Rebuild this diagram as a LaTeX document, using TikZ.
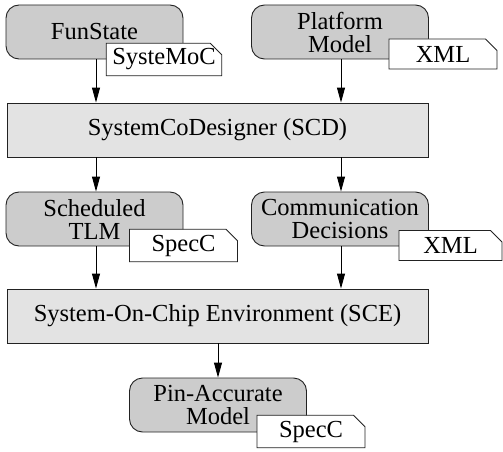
\documentclass[tikz,border=0pt]{standalone}
\usepackage{fontspec}
\setmainfont{Liberation Serif}
\usetikzlibrary{arrows.meta,shapes.misc}
\definecolor{boxgray}{HTML}{CCCCCC}
\definecolor{toolgray}{HTML}{E3E3E3}
\definecolor{edgegray}{HTML}{222222}
\begin{document}
\begin{tikzpicture}[x=1pt,y=-1pt,
  txt/.style={font=\fontsize{24.5}{23}\selectfont, align=center, inner sep=0pt},
  model/.style={txt, draw=edgegray, line width=0.9pt, fill=boxgray, rounded corners=13pt, minimum width=177pt, minimum height=54pt},
  tool/.style={txt, draw=edgegray, line width=0.9pt, fill=toolgray, minimum width=421pt, minimum height=54pt},
  tag/.style={txt, draw=edgegray, line width=0.9pt, fill=white, chamfered rectangle, chamfered rectangle corners=north east, chamfered rectangle xsep=6pt, chamfered rectangle ysep=5.5pt, minimum width=108pt, minimum height=30pt},
  flow/.style={draw=black, line width=0.9pt, -{Triangle[length=15pt,width=8pt]}}]
\useasboundingbox (0,0) rectangle (503,452);
% top row
\node[model] (fun) at (94.5,32) {FunState};
\node[tag] (funtag) at (164,59.5) {SysteMoC};
\node[model] (plat) at (340,32) {Platform\\Model};
\node[tag] (plattag) at (443,54) {XML};
% SCD
\node[tool] (scd) at (217.5,130) {SystemCoDesigner (SCD)};
% middle row
\node[model] (tlm) at (94.5,219) {Scheduled\\TLM};
\node[tag] (tlmtag) at (183.5,245.5) {SpecC};
\node[model] (comm) at (340,219) {Communication\\Decisions};
\node[tag, minimum width=103pt] (commtag) at (450.5,245.5) {XML};
% SCE
\node[tool] (sce) at (217.5,316) {System-On-Chip Environment (SCE)};
% bottom
\node[model] (pin) at (218,405) {Pin-Accurate\\Model};
\node[tag] (pintag) at (311,431.5) {SpecC};
% arrows
\draw[flow] (fun.south -| 96,0) -- (scd.north -| 96,0);
\draw[flow] (plat.south -| 341,0) -- (scd.north -| 341,0);
\draw[flow] (scd.south -| 96,0) -- (tlm.north -| 96,0);
\draw[flow] (scd.south -| 341,0) -- (comm.north -| 341,0);
\draw[flow] (tlm.south -| 96,0) -- (sce.north -| 96,0);
\draw[flow] (comm.south -| 341,0) -- (sce.north -| 341,0);
\draw[flow] (sce.south -| pin.north) -- (pin.north);
\end{tikzpicture}
\end{document}
